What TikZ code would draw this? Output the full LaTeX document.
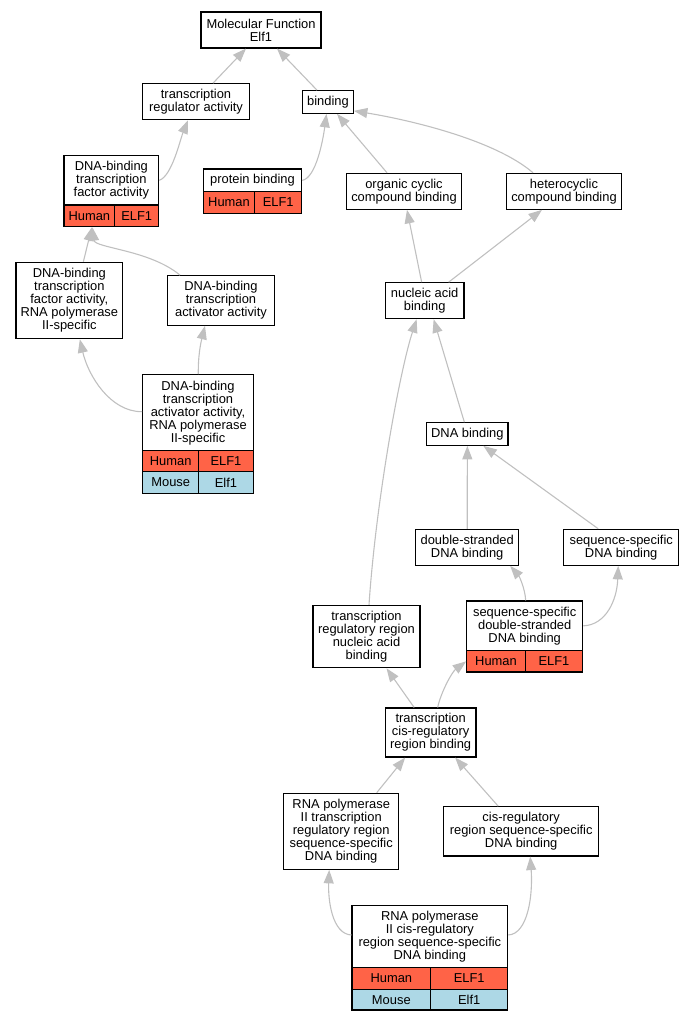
\documentclass[tikz,border=0pt]{standalone}
\usepackage{fontspec}
\setmainfont{Liberation Sans}
\usetikzlibrary{arrows.meta}
\definecolor{humanred}{HTML}{FF6347}
\definecolor{mouseblue}{HTML}{ADD8E6}
\definecolor{edgegray}{HTML}{C0C0C0}

\begin{document}
\begin{tikzpicture}[x=1pt, y=-1pt,
    term/.style={draw, line width=1.1pt, fill=white, align=center, inner sep=0pt,
      font=\fontsize{12.9}{13}\selectfont},
    human/.style={term, fill=humanred},
    mouse/.style={term, fill=mouseblue},
    isa/.style={draw=edgegray, line width=1.1pt, -{Triangle[length=13.5pt, width=10pt]}}]

    \useasboundingbox (0,0) rectangle (695,1021);

    % Root (molecular function)
    \node[term, minimum width=120pt, minimum height=36pt] (mf) at (261,30) {Molecular Function\\Elf1};

    % Second level
    \node[term, minimum width=106.7pt, minimum height=36pt] (tra) at (196,101.7) {transcription\\regulator activity};
    \node[term, minimum width=50.6pt, minimum height=22.6pt] (bind) at (328,102) {binding};

    % Transcription factor branch
    \node[term, minimum width=94.7pt, minimum height=49.3pt] (dbtfa) at (111.35,180.35) {DNA-binding\\transcription\\factor activity};
    \node[human, minimum width=50.7pt, minimum height=21.7pt] (dbtfaH) at (89.35,215.85) {Human};
    \node[human, minimum width=44pt, minimum height=21.7pt] (dbtfaG) at (136.7,215.85) {ELF1};

    \node[term, minimum width=106.7pt, minimum height=76.4pt] (dbtfa2) at (69.35,300.5) {DNA-binding\\transcription\\factor activity,\\RNA polymerase\\II-specific};
    \node[term, minimum width=107.4pt, minimum height=49.6pt] (dbtaa) at (221,300.5) {DNA-binding\\transcription\\activator activity};

    \node[term, minimum width=110.6pt, minimum height=76pt] (dbtaa2) at (198,412.7) {DNA-binding\\transcription\\activator activity,\\RNA polymerase\\II-specific};
    \node[human, minimum width=56pt, minimum height=21pt] (dbtaa2H) at (170.7,461.2) {Human};
    \node[human, minimum width=54.6pt, minimum height=21pt] (dbtaa2G) at (226,461.2) {ELF1};
    \node[mouse, minimum width=56pt, minimum height=21.6pt] (dbtaa2M) at (170.7,482.5) {Mouse};
    \node[mouse, minimum width=54.6pt, minimum height=21.6pt] (dbtaa2g) at (226,482.5) {Elf1};

    % Binding branch
    \node[term, minimum width=98.4pt, minimum height=22.7pt] (prot) at (252.5,180.35) {protein binding};
    \node[human, minimum width=51.4pt, minimum height=21.6pt] (protH) at (229,202.5) {Human};
    \node[human, minimum width=47pt, minimum height=21.6pt] (protG) at (278.2,202.5) {ELF1};

    \node[term, minimum width=114.6pt, minimum height=36pt] (occ) at (404,191.3) {organic cyclic\\compound binding};
    \node[term, minimum width=114.6pt, minimum height=36pt] (hcc) at (564,191.3) {heterocyclic\\compound binding};
    \node[term, minimum width=78.7pt, minimum height=36pt] (nab) at (424.65,300.7) {nucleic acid\\binding};
    \node[term, minimum width=81.3pt, minimum height=22.6pt] (dnab) at (467.35,434) {DNA binding};

    \node[term, minimum width=103pt, minimum height=36pt] (dsdb) at (467.2,547.3) {double-stranded\\DNA binding};
    \node[term, minimum width=115pt, minimum height=36pt] (ssdb) at (621.2,547.3) {sequence-specific\\DNA binding};

    \node[term, minimum width=116pt, minimum height=49.7pt] (ssds) at (524.7,625.85) {sequence-specific\\double-stranded\\DNA binding};
    \node[human, minimum width=58.6pt, minimum height=21.3pt] (ssdsH) at (496,661.35) {Human};
    \node[human, minimum width=57.4pt, minimum height=21.3pt] (ssdsG) at (554,661.35) {ELF1};

    \node[term, minimum width=107pt, minimum height=62.4pt] (trrnab) at (366.5,636.5) {transcription\\regulatory region\\nucleic acid\\binding};
    \node[term, minimum width=90.7pt, minimum height=49pt] (tcrrb) at (430.65,732.5) {transcription\\cis-regulatory\\region binding};

    \node[term, minimum width=115pt, minimum height=76pt] (rpiitrr) at (341.2,831.3) {RNA polymerase\\II transcription\\regulatory region\\sequence-specific\\DNA binding};
    \node[term, minimum width=155pt, minimum height=49.3pt] (crrss) at (521.2,831.35) {cis-regulatory\\region sequence-specific\\DNA binding};

    % Leaf term (both species)
    \node[term, minimum width=155.7pt, minimum height=62.4pt] (rpiicrr) at (429.85,936.5) {RNA polymerase\\II cis-regulatory\\region sequence-specific\\DNA binding};
    \node[human, minimum width=78.7pt, minimum height=21.6pt] (rpiicrrH) at (391.35,978.5) {Human};
    \node[human, minimum width=77pt, minimum height=21.6pt] (rpiicrrG) at (469.2,978.5) {ELF1};
    \node[mouse, minimum width=78.7pt, minimum height=20.7pt] (rpiicrrM) at (391.35,999.65) {Mouse};
    \node[mouse, minimum width=77pt, minimum height=20.7pt] (rpiicrrg) at (469.2,999.65) {Elf1};

    % is-a edges (child -> parent)
    \draw[isa] ([xshift=17pt]tra.north) -- ([xshift=-15pt]mf.south);
    \draw[isa] ([xshift=-11pt]bind.north) -- ([xshift=16pt]mf.south);
    \draw[isa] (dbtfa.east) .. controls (172,176) and (180,140) .. ([xshift=-8pt]tra.south);
    \draw[isa] (prot.east) .. controls (316,178) and (323,140) .. ([xshift=-1.5pt]bind.south);
    \draw[isa] ([xshift=-17pt]occ.north) -- ([xshift=9pt]bind.south);
    \draw[isa] ([xshift=-31pt]hcc.north) .. controls (495,140) and (410,120) .. ([yshift=3pt]bind.south east);
    \draw[isa] ([xshift=-3pt]nab.north) -- ([xshift=3pt]occ.south);
    \draw[isa] ([xshift=24pt]nab.north) -- ([xshift=-22pt]hcc.south);
    \draw[isa] ([xshift=-3pt]dnab.north) -- ([xshift=9pt]nab.south);
    \draw[isa] ([xshift=2.5pt]trrnab.north) .. controls (376,500) and (400,370) .. ([xshift=-8pt]nab.south);
    \draw[isa] (dsdb.north) -- (dnab.south);
    \draw[isa] ([xshift=-23pt]ssdb.north) -- ([xshift=16pt]dnab.south);
    \draw[isa] ([xshift=1pt]ssds.north) .. controls (525,588) and (519,576) .. ([xshift=43pt]dsdb.south);
    \draw[isa] (ssds.east) .. controls (606,625) and (617,600) .. ([xshift=-3pt]ssdb.south);
    \draw[isa] ([xshift=-16.5pt]tcrrb.north) -- ([xshift=20pt]trrnab.south);
    \draw[isa] ([xshift=7pt]tcrrb.north) .. controls (441,692) and (452,672) .. (ssdsH.west);
    \draw[isa] ([xshift=35.5pt]rpiitrr.north) -- ([xshift=-25.5pt]tcrrb.south);
    \draw[isa] ([xshift=-23pt]crrss.north) -- ([xshift=24.5pt]tcrrb.south);
    \draw[isa] ([yshift=1.5pt]rpiicrr.west) .. controls (332,934) and (328,900) .. ([xshift=-12pt]rpiitrr.south);
    \draw[isa] ([yshift=1.5pt]rpiicrr.east) .. controls (528,934) and (533,895) .. ([xshift=9pt]crrss.south);
    \draw[isa] ([xshift=14pt]dbtfa2.north) -- ([xshift=2.5pt]dbtfaH.south);
    \draw[isa] ([xshift=-41pt]dbtaa.north) .. controls (150,250) and (95,248) .. ([xshift=3pt]dbtfaH.south);
    \draw[isa] ([yshift=1pt]dbtaa2.west) .. controls (110,412) and (88,375) .. ([xshift=10.5pt]dbtfa2.south);
    \draw[isa] ([xshift=0.3pt]dbtaa2.north) .. controls (198,355) and (201,342) .. ([xshift=-16pt]dbtaa.south);
\end{tikzpicture}
\end{document}
